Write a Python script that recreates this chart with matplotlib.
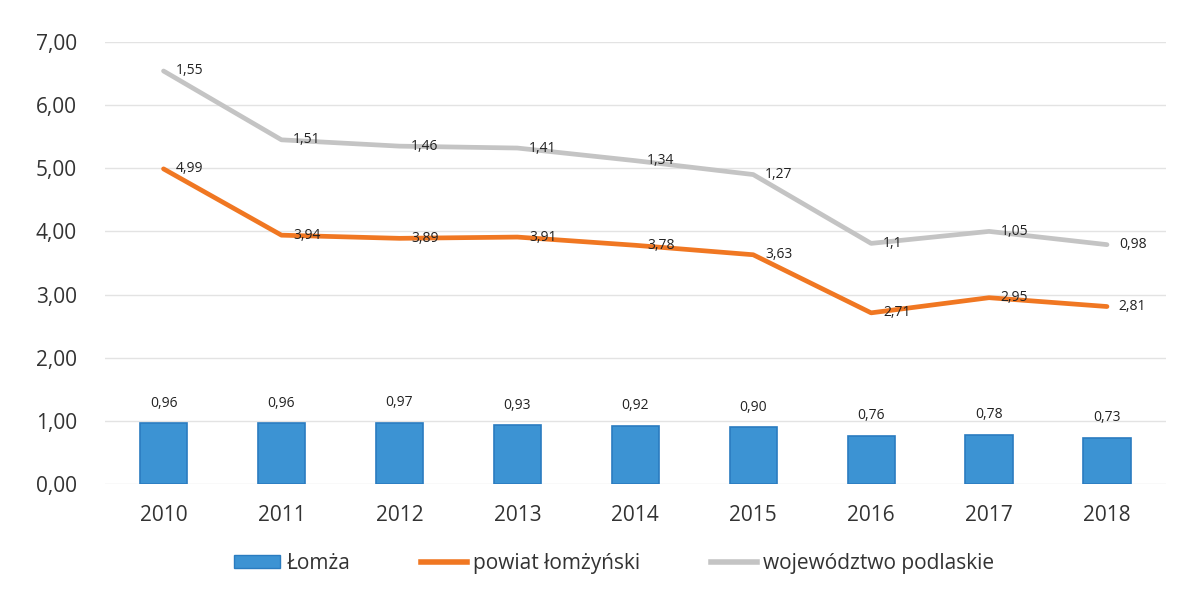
import matplotlib.pyplot as plt
from matplotlib.lines import Line2D
from matplotlib.patches import Patch
import numpy as np

lata = ['2010', '2011', '2012', '2013', '2014', '2015', '2016', '2017', '2018']
lomza = [0.96, 0.96, 0.97, 0.93, 0.92, 0.90, 0.76, 0.78, 0.73]
powiat = [4.99, 3.94, 3.89, 3.91, 3.78, 3.63, 2.71, 2.95, 2.81]
# stacked series: plotted on top of the powiat line, labels show own values
wojewodztwo = [1.55, 1.51, 1.46, 1.41, 1.34, 1.27, 1.1, 1.05, 0.98]
woj_labels = ['1,55', '1,51', '1,46', '1,41', '1,34', '1,27', '1,1', '1,05', '0,98']

plt.rcParams['font.family'] = ['Open Sans', 'DejaVu Sans']

fig = plt.figure(figsize=(12.02, 6.08), dpi=100)
ax = fig.add_axes([0.087, 0.204, 0.883, 0.727])

x = np.arange(len(lata))
woj_top = np.array(powiat) + np.array(wojewodztwo)

bar_c, bar_e = '#3C93D3', '#2A7CC0'
or_c, gr_c = '#F07722', '#C4C4C4'

ax.bar(x, lomza, width=0.4, color=bar_c, edgecolor=bar_e, linewidth=1.2, zorder=3)
ax.plot(x, powiat, color=or_c, lw=3.4, zorder=4,
        solid_capstyle='round', solid_joinstyle='round')
ax.plot(x, woj_top, color=gr_c, lw=3.4, zorder=4,
        solid_capstyle='round', solid_joinstyle='round')

for i, v in enumerate(lomza):
    ax.text(x[i], v + 0.2, f'{v:.2f}'.replace('.', ','), ha='center', va='bottom',
            fontsize=10, color='#222222')
for i, v in enumerate(powiat):
    ax.text(x[i] + 0.1, v, f'{v:.2f}'.replace('.', ','), ha='left', va='center',
            fontsize=10, color='#222222', zorder=5)
for i, v in enumerate(woj_top):
    ax.text(x[i] + 0.1, v, woj_labels[i], ha='left', va='center',
            fontsize=10, color='#222222', zorder=5)

ax.set_xlim(-0.5, len(lata) - 0.5)
ax.set_ylim(0, 7)
ax.set_yticks(np.arange(0, 8, 1))
ax.set_yticklabels([f'{t:.2f}'.replace('.', ',') for t in np.arange(0, 8, 1)])
ax.set_xticks(x)
ax.set_xticklabels(lata)
ax.tick_params(axis='both', length=0, labelsize=15, colors='#333333')
ax.tick_params(axis='x', pad=15)
ax.tick_params(axis='y', pad=20)
ax.grid(axis='y', color='#E3E3E3', lw=1, zorder=0)
for s in ax.spines.values():
    s.set_visible(False)

handles = [Patch(facecolor=bar_c, edgecolor=bar_e),
           Line2D([], [], color=or_c, lw=4),
           Line2D([], [], color=gr_c, lw=4)]
fig.legend(handles, ['Łomża', 'powiat łomżyński', 'województwo podlaskie'],
           loc='lower center', bbox_to_anchor=(0.511, 0.025), ncol=3, frameon=False,
           fontsize=15, handlelength=2.2, handleheight=0.6, handletextpad=0.3,
           columnspacing=3.4, labelcolor='#333333')

fig.savefig('out.png', dpi=100)
